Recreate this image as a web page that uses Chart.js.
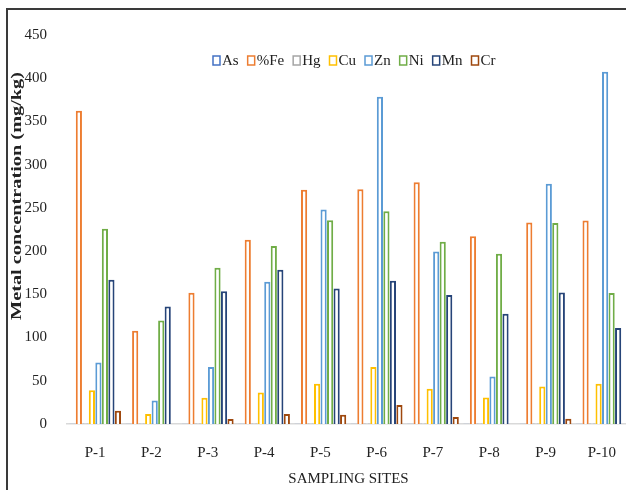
<!DOCTYPE html>
<html>
<head>
<meta charset="utf-8">
<script src="https://cdn.jsdelivr.net/npm/chart.js@4.4.1/dist/chart.umd.min.js"></script>
<style>
  html, body { margin: 0; padding: 0; background: #fff; overflow: hidden; width: 626px; height: 490px; }
  #frame { position: absolute; left: 6px; top: 8px; width: 700px; height: 500px;
           border-left: 2px solid #3a3a3a; border-top: 2px solid #3a3a3a; }
  #myChart { position: absolute; left: 0; top: 0; }
</style>
</head>
<body>
<div id="frame"><canvas id="myChart" width="650" height="480"></canvas></div>
<script>
// Sampling sites and metal concentrations (mg/kg)
const sites = ['P-1', 'P-2', 'P-3', 'P-4', 'P-5', 'P-6', 'P-7', 'P-8', 'P-9', 'P-10'];
const asValues = [0.2, 0.2, 0.2, 0.2, 0.2, 0.2, 0.2, 0.2, 0.2, 0.2];
const feValues = [362.5, 108, 151.8, 213, 270.9, 271.7, 279.8, 217.3, 233, 235.4];
const hgValues = [0.5, 0.5, 0.5, 0.5, 0.5, 0.5, 0.5, 0.5, 0.5, 0.5];
const cuValues = [38.9, 11.6, 30.4, 36.5, 46.6, 65.9, 40.8, 30.8, 43.5, 46.6];
const znValues = [71.2, 27.3, 65.9, 164.5, 248, 378.7, 199.6, 55, 277.8, 407.6];
const niValues = [226, 119.8, 180.7, 205.8, 235.8, 246.2, 210.8, 196.9, 232.4, 151.4];
const mnValues = [167, 136, 153.7, 178.4, 156.8, 165.7, 149.1, 127.5, 152.1, 111];
const crValues = [15.4, 0, 5.8, 11.6, 10.8, 22, 8.1, 0, 6.1, 0];
const yTicks = [0, 50, 100, 150, 200, 250, 300, 350, 400, 450];

const serif = '"Liberation Serif", "Times New Roman", serif';

function series(label, data, color) {
  return {
    label: label,
    data: data,
    backgroundColor: '#ffffff',
    borderColor: color,
    borderWidth: 2,
    barPercentage: 0.95,
    categoryPercentage: 0.925,
  };
}

// legend sits inside the plot area, drawn by hand
const insideLegend = {
  id: 'insideLegend',
  afterDraw(chart) {
    const ctx = chart.ctx;
    const area = chart.chartArea;
    ctx.save();
    ctx.font = '15px ' + serif;
    ctx.textBaseline = 'middle';
    let x = area.left + 146;
    const y = 51;
    chart.data.datasets.forEach(ds => {
      ctx.fillStyle = '#fff';
      ctx.fillRect(x, y - 5, 7, 9);
      ctx.strokeStyle = ds.borderColor;
      ctx.lineWidth = 1.5;
      ctx.strokeRect(x, y - 5, 7, 9);
      ctx.fillStyle = '#222';
      ctx.fillText(ds.label, x + 9, y);
      x += 9 + ctx.measureText(ds.label).width + 9;
    });

    // y axis title
    ctx.translate(9, 186);
    ctx.rotate(-Math.PI / 2);
    ctx.scale(1.45, 1);
    ctx.font = 'bold 14px ' + serif;
    ctx.textAlign = 'center';
    ctx.textBaseline = 'middle';
    ctx.fillStyle = '#222';
    ctx.fillText('Metal concentration (mg/kg)', 0, 0);
    ctx.restore();
  }
};

const ctx = document.getElementById('myChart').getContext('2d');
const myChart = new Chart(ctx, {
  type: 'bar',
  data: {
    labels: sites,
    datasets: [
      series('As', asValues, '#4472C4'),
      series('%Fe', feValues, '#ED7D31'),
      series('Hg', hgValues, '#A5A5A5'),
      series('Cu', cuValues, '#FFC000'),
      series('Zn', znValues, '#5B9BD5'),
      series('Ni', niValues, '#70AD47'),
      series('Mn', mnValues, '#264478'),
      series('Cr', crValues, '#9E480E'),
    ],
  },
  options: {
    responsive: false,
    animation: false,
    devicePixelRatio: 1,
    layout: { padding: { left: 0, top: 25, right: 28, bottom: 0 } },
    plugins: {
      legend: { display: false },
      tooltip: { enabled: false },
    },
    scales: {
      x: {
        grid: { display: false, drawTicks: false },
        border: { display: true, color: '#d9d9d9', width: 1.5 },
        ticks: { color: '#222', font: { family: serif, size: 15 }, padding: 20, maxRotation: 0 },
        title: { display: true, text: 'SAMPLING SITES', color: '#222',
                 font: { family: serif, size: 15 }, padding: { top: 0, bottom: 2 } },
        afterFit: (scale) => { scale.height = 66; },
      },
      y: {
        min: 0,
        max: 450,
        // tick length (not tick padding) pushes the labels left, so the top padding stays small
        grid: { display: false, drawTicks: true, tickLength: 20 },
        border: { display: false },
        afterBuildTicks: (scale) => { scale.ticks = yTicks.map(v => ({ value: v })); },
        ticks: { color: '#222', font: { family: serif, size: 15 }, padding: 0 },
        afterFit: (scale) => { scale.width = 59; },
      },
    },
  },
  plugins: [insideLegend],
});
</script>
</body>
</html>
